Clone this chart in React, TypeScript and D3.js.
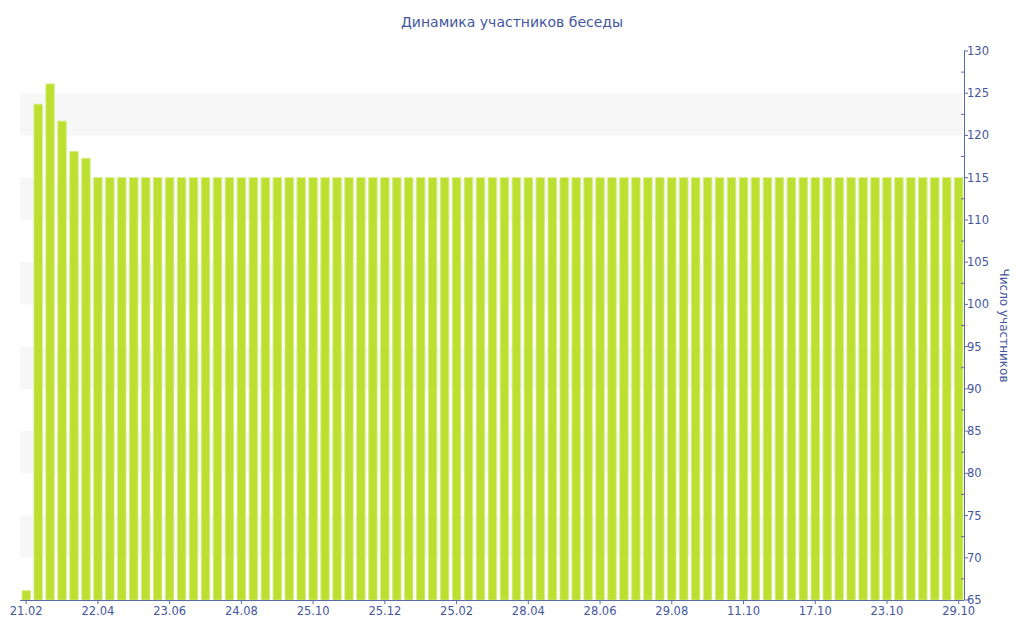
import React from "react";
import * as d3 from "d3";

const title = "Динамика участников беседы";
const yAxisTitle = "Число участников";

// participant count per period (79 bars)
const values: number[] = [
  66.1, 123.7, 126.1, 121.7, 118.1, 117.3, 115, 115, 115, 115,
  115, 115, 115, 115, 115, 115, 115, 115, 115, 115,
  115, 115, 115, 115, 115, 115, 115, 115, 115, 115,
  115, 115, 115, 115, 115, 115, 115, 115, 115, 115,
  115, 115, 115, 115, 115, 115, 115, 115, 115, 115,
  115, 115, 115, 115, 115, 115, 115, 115, 115, 115,
  115, 115, 115, 115, 115, 115, 115, 115, 115, 115,
  115, 115, 115, 115, 115, 115, 115, 115, 115,
];

// labels shown every 6th bar
const tickLabels: string[] = [
  "21.02", "22.04", "23.06", "24.08", "25.10", "25.12", "25.02",
  "28.04", "28.06", "29.08", "11.10", "17.10", "23.10", "29.10",
];
const tickEvery = 6;

const yTicks: number[] = [65, 70, 75, 80, 85, 90, 95, 100, 105, 110, 115, 120, 125, 130];
const yBands: [number, number][] = [
  [70, 75], [80, 85], [90, 95], [100, 105], [110, 115], [120, 125],
];

const W = 1024;
const H = 640;
const textColor = "#4456a0";
const axisColor = "#5a6aa8";
const barColor = "#bde030";
const font = "'DejaVu Sans', Verdana, sans-serif";

export default function App() {
  const indices = d3.range(values.length);
  const x = d3
    .scaleBand<number>()
    .domain(indices)
    .range([20.2, 964.7])
    .paddingInner(0.3)
    .paddingOuter(0.15);
  const y = d3.scaleLinear().domain([65, 130]).range([600, 51]);
  const minorTicks = d3.range(67.5, 130, 5);
  const axisX = 964;

  return (
    <div style={{ position: "fixed", left: 0, top: 0 }}>
      <svg width={W} height={H} style={{ display: "block", background: "#fff" }}>
        {yBands.map(([a, b], i) => (
          <rect key={i} x={20} y={y(b)} width={942} height={y(a) - y(b)} fill="#f7f7f7" />
        ))}
        {values.map((v, i) => (
          <rect
            key={i}
            x={x(i)!}
            y={y(v)}
            width={x.bandwidth()}
            height={y(65) - y(v)}
            fill={barColor}
            stroke="#d3ec82"
            strokeWidth={0.8}
          />
        ))}
        {/* x axis */}
        <line x1={20} x2={axisX} y1={600.5} y2={600.5} stroke={axisColor} strokeWidth={1} />
        {tickLabels.map((lab, k) => {
          const cx = x(k * tickEvery)! + x.bandwidth() / 2;
          return (
            <g key={k}>
              <line x1={cx} x2={cx} y1={600} y2={604} stroke={axisColor} />
              <text
                x={cx}
                y={615}
                textAnchor="middle"
                fontFamily={font}
                fontSize={11.5}
                fill={textColor}
              >
                {lab}
              </text>
            </g>
          );
        })}
        {/* y axis (right) */}
        <line x1={axisX + 0.5} x2={axisX + 0.5} y1={51} y2={600} stroke={axisColor} strokeWidth={1} />
        {yTicks.map((t) => (
          <g key={t}>
            <line x1={axisX} x2={axisX + 4} y1={y(t)} y2={y(t)} stroke={axisColor} />
            <text
              x={axisX + 3}
              y={y(t)}
              dy="0.35em"
              fontFamily={font}
              fontSize={11.5}
              fill={textColor}
            >
              {t}
            </text>
          </g>
        ))}
        {minorTicks.map((t) => (
          <line key={t} x1={axisX - 3} x2={axisX} y1={y(t)} y2={y(t)} stroke={axisColor} />
        ))}
        <text
          transform={`translate(1000, ${(51 + 600) / 2}) rotate(90)`}
          textAnchor="middle"
          fontFamily={font}
          fontSize={12}
          fill={textColor}
        >
          {yAxisTitle}
        </text>
        <text
          x={512}
          y={27}
          textAnchor="middle"
          fontFamily={font}
          fontSize={14}
          fill={textColor}
        >
          {title}
        </text>
      </svg>
    </div>
  );
}
